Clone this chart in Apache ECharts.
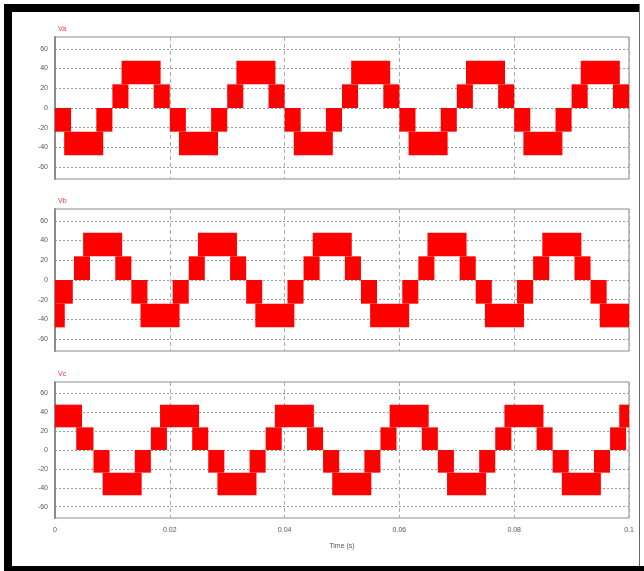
<!DOCTYPE html>
<html>
<head>
<meta charset="utf-8">
<script src="https://cdn.jsdelivr.net/npm/echarts@6/dist/echarts.min.js"></script>
<style>
  html, body { margin: 0; padding: 0; background: #ffffff; }
  #chart { width: 644px; height: 571px; }
</style>
</head>
<body>
<div id="chart"></div>
<script>
// Five-level inverter phase voltages, 0 to 0.1 s.
const phaseNames = ['Va', 'Vb', 'Vc'];
const timeTicks = [0, 0.02, 0.04, 0.06, 0.08, 0.1];
const timeTickLabels = ['0', '0.02', '0.04', '0.06', '0.08', '0.1'];
const voltTicks = [-60, -40, -20, 0, 20, 40, 60];
const voltRange = [-72, 72];

// Switching bands: [t start (s), t end (s), lower level (V), upper level (V)]
const vaBands = [
  [0.0000, 0.0028, -24, 0], [0.0016, 0.0084, -48, -24], [0.0072, 0.0100, -24, 0],
  [0.0100, 0.0128, 0, 24], [0.0116, 0.0184, 24, 48], [0.0172, 0.0200, 0, 24],
  [0.0200, 0.0228, -24, 0], [0.0216, 0.0284, -48, -24], [0.0272, 0.0300, -24, 0],
  [0.0300, 0.0328, 0, 24], [0.0316, 0.0384, 24, 48], [0.0372, 0.0400, 0, 24],
  [0.0400, 0.0428, -24, 0], [0.0416, 0.0484, -48, -24], [0.0472, 0.0500, -24, 0],
  [0.0500, 0.0528, 0, 24], [0.0516, 0.0584, 24, 48], [0.0572, 0.0600, 0, 24],
  [0.0600, 0.0628, -24, 0], [0.0616, 0.0684, -48, -24], [0.0672, 0.0700, -24, 0],
  [0.0700, 0.0728, 0, 24], [0.0716, 0.0784, 24, 48], [0.0772, 0.0800, 0, 24],
  [0.0800, 0.0828, -24, 0], [0.0816, 0.0884, -48, -24], [0.0872, 0.0900, -24, 0],
  [0.0900, 0.0928, 0, 24], [0.0916, 0.0984, 24, 48], [0.0972, 0.1000, 0, 24]
];

const vbBands = [
  [0.0000, 0.0017, -48, -24], [0.0000, 0.0031, -24, 0],
  [0.0033, 0.0061, 0, 24], [0.0049, 0.0117, 24, 48], [0.0105, 0.0133, 0, 24],
  [0.0133, 0.0161, -24, 0], [0.0149, 0.0217, -48, -24], [0.0205, 0.0233, -24, 0],
  [0.0233, 0.0261, 0, 24], [0.0249, 0.0317, 24, 48], [0.0305, 0.0333, 0, 24],
  [0.0333, 0.0361, -24, 0], [0.0349, 0.0417, -48, -24], [0.0405, 0.0433, -24, 0],
  [0.0433, 0.0461, 0, 24], [0.0449, 0.0517, 24, 48], [0.0505, 0.0533, 0, 24],
  [0.0533, 0.0561, -24, 0], [0.0549, 0.0617, -48, -24], [0.0605, 0.0633, -24, 0],
  [0.0633, 0.0661, 0, 24], [0.0649, 0.0717, 24, 48], [0.0705, 0.0733, 0, 24],
  [0.0733, 0.0761, -24, 0], [0.0749, 0.0817, -48, -24], [0.0805, 0.0833, -24, 0],
  [0.0833, 0.0861, 0, 24], [0.0849, 0.0917, 24, 48], [0.0905, 0.0933, 0, 24],
  [0.0933, 0.0961, -24, 0], [0.0949, 0.1000, -48, -24]
];

const vcBands = [
  [0.0000, 0.0047, 24, 48], [0.0037, 0.0067, 0, 24],
  [0.0067, 0.0095, -24, 0], [0.0083, 0.0151, -48, -24], [0.0139, 0.0167, -24, 0],
  [0.0167, 0.0195, 0, 24], [0.0183, 0.0251, 24, 48], [0.0239, 0.0267, 0, 24],
  [0.0267, 0.0295, -24, 0], [0.0283, 0.0351, -48, -24], [0.0339, 0.0367, -24, 0],
  [0.0367, 0.0395, 0, 24], [0.0383, 0.0451, 24, 48], [0.0439, 0.0467, 0, 24],
  [0.0467, 0.0495, -24, 0], [0.0483, 0.0551, -48, -24], [0.0539, 0.0567, -24, 0],
  [0.0567, 0.0595, 0, 24], [0.0583, 0.0651, 24, 48], [0.0639, 0.0667, 0, 24],
  [0.0667, 0.0695, -24, 0], [0.0683, 0.0751, -48, -24], [0.0739, 0.0767, -24, 0],
  [0.0767, 0.0795, 0, 24], [0.0783, 0.0851, 24, 48], [0.0839, 0.0867, 0, 24],
  [0.0867, 0.0895, -24, 0], [0.0883, 0.0951, -48, -24], [0.0939, 0.0967, -24, 0],
  [0.0967, 0.0995, 0, 24], [0.0983, 0.1000, 24, 48]
];

const phaseBands = [vaBands, vbBands, vcBands];

const panels = [
  { top: 37, height: 142 },
  { top: 209, height: 142 },
  { top: 382, height: 136 }
];

const labelFont = "'Liberation Sans Narrow', 'Liberation Sans', Arial, sans-serif";

function renderBand(params, api) {
  const a = api.coord([api.value(0), api.value(3)]);
  const b = api.coord([api.value(1), api.value(2)]);
  return {
    type: 'rect',
    shape: { x: a[0], y: a[1], width: b[0] - a[0], height: b[1] - a[1] },
    style: { fill: '#ff0000' }
  };
}

const grids = [], xAxes = [], yAxes = [], series = [], titles = [];
panels.forEach((p, i) => {
  grids.push({
    left: 55, top: p.top, width: 574, height: p.height,
    show: true, borderColor: '#8a8a8a', borderWidth: 1, backgroundColor: '#ffffff'
  });
  const last = i === panels.length - 1;
  xAxes.push({
    type: 'value', gridIndex: i, min: 0, max: 0.1, interval: 0.02,
    axisLine: { show: false },
    axisTick: { show: false },
    axisLabel: {
      show: last, margin: 9, fontSize: 7, color: '#555', fontFamily: labelFont,
      formatter: (v) => {
        const k = timeTicks.findIndex(t => Math.abs(t - v) < 1e-9);
        return k >= 0 ? timeTickLabels[k] : '';
      }
    },
    splitLine: { show: true, lineStyle: { color: '#aaaaaa', type: [4, 3], width: 1 } },
    name: last ? 'Time (s)' : '',
    nameLocation: 'middle', nameGap: 25,
    nameTextStyle: { fontSize: 7, color: '#555', fontFamily: labelFont }
  });
  yAxes.push({
    type: 'value', gridIndex: i, min: voltRange[0], max: voltRange[1],
    axisLine: { show: true, lineStyle: { color: '#8a8a8a', width: 2 } },
    axisTick: { show: false, customValues: voltTicks },
    axisLabel: {
      customValues: voltTicks, margin: 7, fontSize: 7, color: '#555', fontFamily: labelFont
    },
    splitLine: { show: true, lineStyle: { color: '#9a9a9a', type: [2, 2], width: 1 } }
  });
  series.push({
    type: 'custom', name: phaseNames[i], xAxisIndex: i, yAxisIndex: i,
    renderItem: renderBand, clip: true,
    encode: { x: [0, 1], y: [2, 3] },
    data: phaseBands[i]
  });
  titles.push({
    text: phaseNames[i], left: 53, top: p.top - 16,
    textStyle: { fontSize: 7, color: '#ff3030', fontWeight: 'normal', fontFamily: labelFont }
  });
});

const chart = echarts.init(document.getElementById('chart'), null, { renderer: 'canvas' });
chart.setOption({
  backgroundColor: '#ffffff',
  animation: false,
  title: titles,
  grid: grids,
  xAxis: xAxes,
  yAxis: yAxes,
  series: series,
  graphic: [
    { type: 'rect', shape: { x: 4, y: 4, width: 636, height: 8 }, style: { fill: '#000' }, z: 100 },
    { type: 'rect', shape: { x: 4, y: 4, width: 8, height: 567 }, style: { fill: '#000' }, z: 100 },
    { type: 'rect', shape: { x: 4, y: 566, width: 640, height: 5 }, style: { fill: '#000' }, z: 100 },
    { type: 'rect', shape: { x: 639, y: 4, width: 1, height: 562 }, style: { fill: '#666' }, z: 100 }
  ]
});
</script>
</body>
</html>
